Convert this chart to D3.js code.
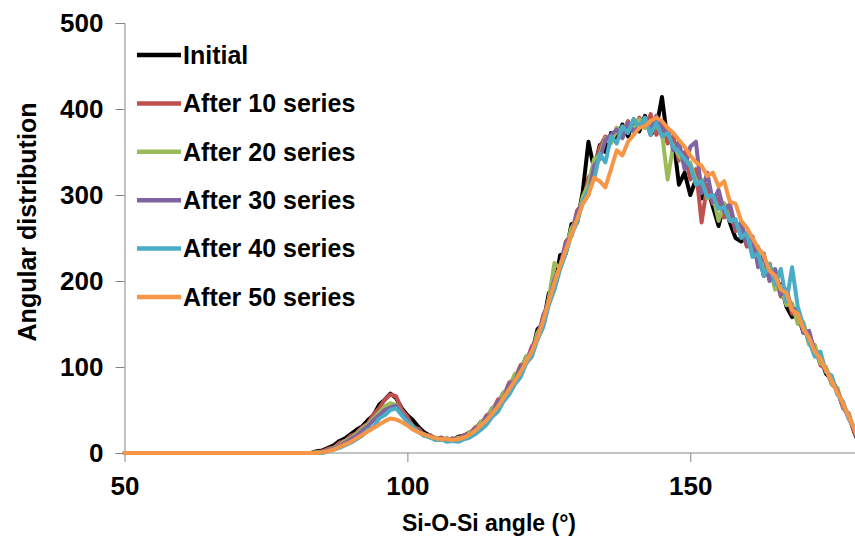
<!DOCTYPE html>
<html>
<head>
<meta charset="utf-8">
<script src="https://cdn.jsdelivr.net/npm/d3@7"></script>
<style>
  body { margin: 0; background: #fff; }
  svg { display: block; font-family: "Liberation Sans", Arial, sans-serif; font-weight: bold; }
</style>
</head>
<body>
<script>
/*
 * Data
 */
// Bin centres (degrees); everything below 82 is zero
const angles = [50, 82, 83, 84, 85, 86, 87, 88, 89, 90, 91, 92, 93, 94, 95, 96, 97, 98, 99,
  100, 101, 102, 103, 104, 105, 106, 107, 108, 109, 110, 111, 112, 113, 114, 115, 116, 117, 118, 119,
  120, 121, 122, 123, 124, 125, 126, 127, 128, 129, 130, 131, 132, 133, 134, 135, 136, 137, 138, 139,
  140, 141, 142, 143, 144, 145, 146, 147, 148, 149, 150, 151, 152, 153, 154, 155, 156, 157, 158, 159,
  160, 161, 162, 163, 164, 165, 166, 167, 168, 169, 170, 171, 172, 173, 174, 175, 176, 177, 178, 179, 180];

const seriesNames = ["Initial", "After 10 series", "After 20 series", "After 30 series", "After 40 series", "After 50 series"];
const seriesColors = ["#000000", "#C0504D", "#9BBB59", "#8064A2", "#4BACC6", "#F79646"];

const initial = [0, 0, 0, 2, 3, 6, 9, 14, 17, 22, 27, 31, 38, 44, 56, 62, 69, 64, 52,
  44, 38, 30, 24, 20, 17, 15, 17, 14, 19, 20, 24, 27, 36, 40, 52, 57, 70, 76, 90,
  96, 112, 116, 144, 150, 186, 192, 230, 232, 266, 268, 304, 362, 330, 358, 350, 372, 364, 382, 368,
  388, 374, 392, 370, 378, 414, 362, 366, 312, 326, 300, 318, 296, 310, 286, 264, 290, 268, 250, 246,
  252, 232, 236, 206, 220, 192, 196, 170, 158, 162, 140, 138, 116, 112, 92, 86, 72, 54, 44, 24, 8];

const after10 = [0, 0, 0, 1, 2, 5, 6, 12, 14, 20, 23, 30, 34, 45, 52, 62, 68, 66, 50,
  42, 30, 28, 20, 21, 16, 18, 15, 17, 16, 21, 22, 30, 33, 44, 48, 62, 66, 82, 86,
  102, 106, 124, 132, 160, 174, 204, 216, 246, 254, 282, 290, 320, 330, 356, 368, 362, 378, 372, 386,
  376, 390, 378, 394, 370, 384, 360, 368, 340, 350, 318, 330, 268, 312, 290, 296, 274, 282, 258, 262,
  240, 244, 222, 226, 202, 206, 182, 186, 162, 160, 150, 128, 124, 102, 98, 80, 74, 52, 46, 24, 12];

const after20 = [0, 0, 0, 1, 1, 3, 6, 9, 14, 17, 22, 28, 33, 40, 47, 54, 58, 56, 47,
  38, 31, 24, 22, 18, 18, 15, 17, 14, 18, 17, 24, 26, 36, 40, 52, 56, 70, 76, 92,
  96, 112, 118, 140, 152, 180, 221, 214, 238, 262, 272, 298, 312, 342, 346, 366, 360, 378, 370, 384,
  376, 388, 378, 386, 380, 372, 318, 358, 346, 336, 338, 316, 318, 296, 300, 270, 290, 270, 268, 252,
  256, 232, 240, 214, 218, 190, 194, 172, 174, 150, 152, 126, 126, 104, 100, 80, 76, 54, 44, 28, 10];

const after30 = [0, 0, 0, 0, 1, 3, 5, 8, 12, 16, 20, 26, 31, 38, 44, 50, 53, 55, 46,
  38, 30, 25, 20, 20, 16, 17, 14, 17, 15, 20, 21, 28, 31, 42, 46, 60, 64, 80, 84,
  100, 104, 122, 134, 158, 176, 202, 216, 244, 252, 280, 290, 300, 334, 342, 364, 370, 376, 366, 384,
  374, 380, 388, 376, 392, 374, 378, 352, 362, 330, 356, 362, 302, 326, 292, 306, 280, 290, 262, 268,
  244, 252, 216, 232, 200, 214, 184, 190, 166, 168, 140, 142, 118, 110, 96, 84, 72, 56, 40, 28, 8];

const after40 = [0, 0, 0, 0, 0, 2, 4, 6, 9, 12, 16, 20, 27, 30, 40, 44, 50, 52, 44,
  36, 30, 24, 20, 18, 15, 16, 13, 14, 13, 16, 18, 22, 27, 33, 42, 48, 60, 68, 80,
  88, 104, 112, 132, 146, 172, 190, 214, 232, 254, 268, 292, 306, 318, 348, 338, 368, 360, 380, 372,
  388, 378, 390, 370, 384, 368, 372, 356, 350, 342, 334, 312, 316, 298, 300, 284, 286, 270, 272, 250,
  256, 228, 232, 206, 220, 196, 214, 176, 216, 170, 148, 130, 112, 118, 94, 90, 68, 60, 40, 30, 8];

const after50 = [0, 0, 0, 0, 1, 2, 4, 7, 10, 13, 17, 21, 25, 29, 33, 37, 40, 39, 36,
  32, 27, 24, 21, 19, 17, 16, 16, 15, 16, 18, 21, 26, 32, 38, 46, 54, 64, 74, 84,
  94, 106, 118, 134, 154, 176, 198, 218, 236, 254, 272, 290, 300, 320, 316, 309, 330, 352, 346, 362,
  370, 378, 380, 386, 390, 386, 378, 372, 364, 356, 346, 338, 334, 322, 326, 310, 316, 292, 290, 270,
  262, 250, 238, 230, 212, 206, 190, 186, 166, 162, 144, 134, 118, 110, 96, 84, 70, 58, 42, 28, 12];

const seriesValues = [initial, after10, after20, after30, after40, after50];

const xTicks = [50, 100, 150];
const yTicks = [0, 100, 200, 300, 400, 500];

/*
 * Chart
 */
const width = 855, height = 542;
const axisColor = "#868686";

const svg = d3.select("body").append("svg")
    .attr("width", width)
    .attr("height", height);

svg.append("rect").attr("width", width).attr("height", height).attr("fill", "#fff");

const x = d3.scaleLinear().domain([50, 180]).range([124.5, 860]);
const y = d3.scaleLinear().domain([0, 500]).range([453, 23]);

// Y axis
const yAxis = svg.append("g")
    .attr("transform", "translate(" + x(50) + ",0)")
    .call(d3.axisLeft(y).tickValues(yTicks).tickSize(9).tickPadding(12));
yAxis.selectAll("text").attr("font-size", 26).attr("font-family", null).attr("fill", "#000");

// X axis
const xAxis = svg.append("g")
    .attr("transform", "translate(0," + y(0) + ")")
    .call(d3.axisBottom(x).tickValues(xTicks).tickSize(9).tickPadding(15));
xAxis.selectAll("text").attr("font-size", 26).attr("font-family", null).attr("fill", "#000");

[yAxis, xAxis].forEach(function(a) {
  a.select(".domain").attr("stroke", axisColor);
  a.selectAll(".tick line").attr("stroke", axisColor);
});
xAxis.select(".domain").attr("d", "M" + x(50) + ",0H" + width);

// Series lines, first one at the bottom
const line = d3.line()
    .x(function(d, i) { return x(angles[i]); })
    .y(function(d) { return y(d); });

svg.append("g").selectAll("path")
    .data(seriesValues)
    .join("path")
    .attr("d", line)
    .attr("fill", "none")
    .attr("stroke", function(d, i) { return seriesColors[i]; })
    .attr("stroke-width", 4)
    .attr("stroke-linejoin", "round")
    .attr("stroke-linecap", "round");

// Legend
const legend = svg.append("g").selectAll("g")
    .data(seriesNames)
    .join("g")
    .attr("transform", function(d, i) { return "translate(137," + (55 + i * 48.4) + ")"; });

legend.append("line")
    .attr("x1", 0).attr("x2", 44)
    .attr("stroke", function(d, i) { return seriesColors[i]; })
    .attr("stroke-width", 4.5);

legend.append("text")
    .attr("x", 46)
    .attr("dy", "0.35em")
    .attr("font-size", 25)
    .text(function(d) { return d; });

// Axis titles
svg.append("text")
    .attr("text-anchor", "middle")
    .attr("transform", "translate(36,222)rotate(-90)")
    .attr("font-size", 25)
    .text("Angular distribution");

svg.append("text")
    .attr("text-anchor", "middle")
    .attr("x", 489)
    .attr("y", 531)
    .attr("font-size", 23)
    .text("Si-O-Si angle (°)");
</script>
</body>
</html>
